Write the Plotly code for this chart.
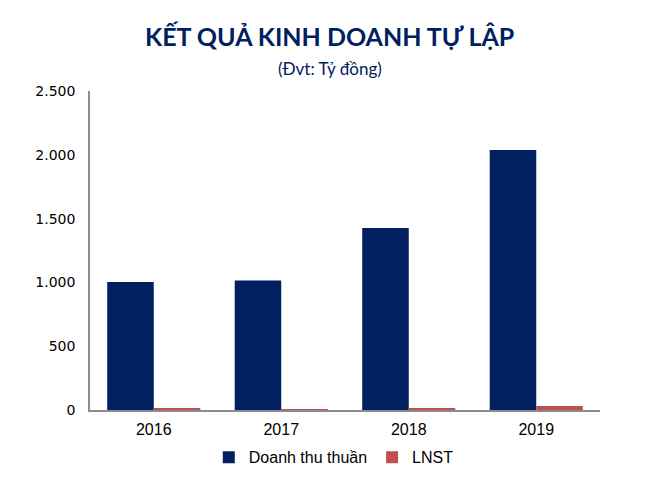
import plotly.graph_objects as go

years = ["2016", "2017", "2018", "2019"]
doanh_thu = [1003, 1015, 1426, 2037]
lnst = [8, 7, 8, 31]
y_ticks = [0, 500, 1000, 1500, 2000, 2500]
y_tick_labels = ["0", "500", "1.000", "1.500", "2.000", "2.500"]

fig = go.Figure()
fig.add_trace(go.Bar(x=years, y=doanh_thu, name="Doanh thu thuần",
                     marker=dict(color="#002060", line=dict(width=0))))
fig.add_trace(go.Bar(x=years, y=lnst, name="LNST",
                     marker=dict(color="#C0504D", line=dict(width=0))))

fig.update_layout(
    width=660, height=495,
    paper_bgcolor="white", plot_bgcolor="white",
    margin=dict(l=82, r=68, t=83, b=93),
    barmode="group", bargap=0.27, bargroupgap=0,
    showlegend=True,
    legend=dict(orientation="h", x=0.478, xanchor="center", y=-0.095, yanchor="top",
                font=dict(family="Liberation Sans, Arial", size=16, color="#000000"),
                traceorder="normal"),
    annotations=[
        dict(text="<b>KẾT QUẢ KINH DOANH TỰ LẬP</b>", xref="paper", yref="paper",
             x=0.47, y=1.0, yanchor="bottom", yshift=38, showarrow=False,
             font=dict(family="Lato, Open Sans", size=25, color="#002060")),
        dict(text="(Đvt: Tỷ đồng)", xref="paper", yref="paper",
             x=0.47, y=1.0, yanchor="bottom", yshift=10, showarrow=False,
             font=dict(family="Lato, Open Sans", size=17, color="#002060")),
    ],
    font=dict(family="Liberation Sans, Arial", color="#000000"),
)
fig.update_xaxes(showline=True, linecolor="#8c8c8c", linewidth=1.5, ticks="",
                 tickfont=dict(family="Liberation Sans, Arial", size=16, color="#000000"),
                 ticklabelstandoff=4,
                 showgrid=False, fixedrange=True)
fig.update_yaxes(range=[0, 2500], tickvals=y_ticks, ticktext=y_tick_labels,
                 showline=True, linecolor="#8c8c8c", linewidth=1.5, ticks="",
                 showgrid=False, zeroline=False,
                 tickfont=dict(family="DejaVu Sans", size=14, color="#000000"),
                 ticklabelstandoff=10)

fig.write_html("out.html")
